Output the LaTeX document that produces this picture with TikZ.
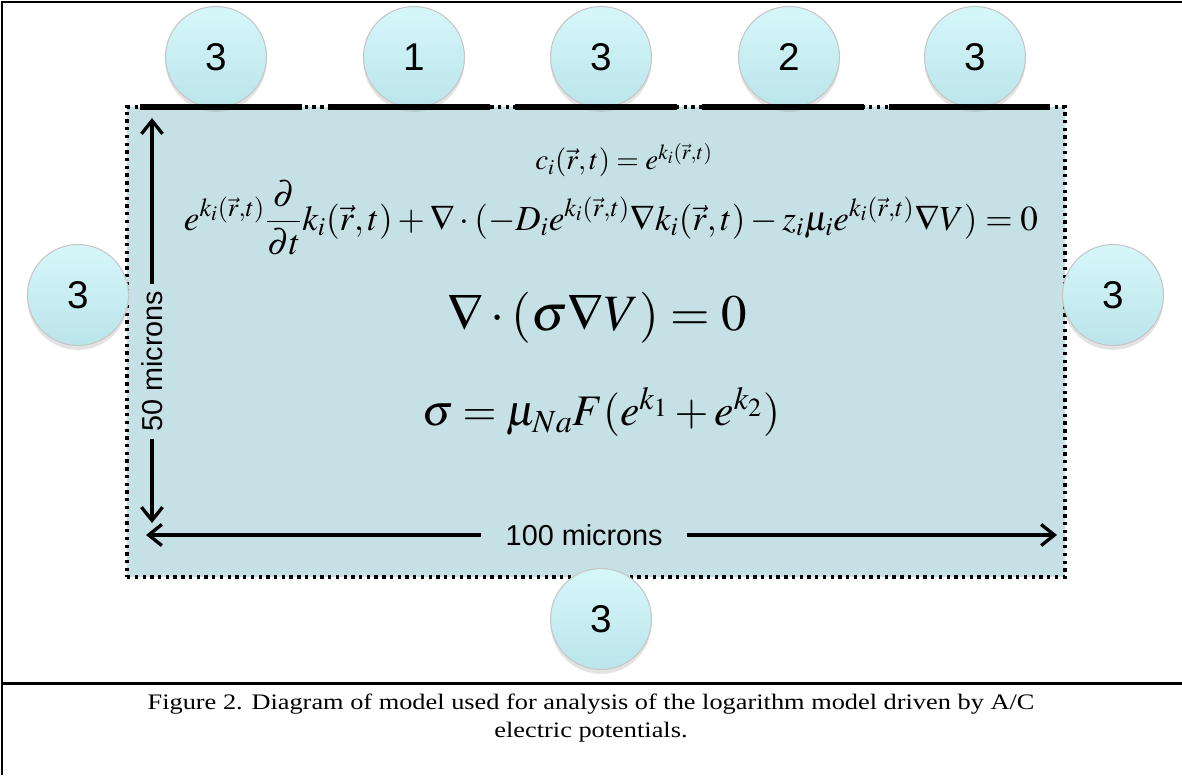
\documentclass[tikz,border=0pt]{standalone}
\usepackage{mathptmx}
\usepackage{fontspec}
\setmainfont{Liberation Serif}
\setsansfont{Liberation Sans}
\usetikzlibrary{shadows,arrows.meta}

\definecolor{cellfill}{RGB}{198,225,230}
\definecolor{padtop}{RGB}{214,247,250}
\definecolor{padbottom}{RGB}{186,229,234}

\tikzset{
  pad/.style={circle, draw=gray!45, line width=0.6pt, top color=padtop, bottom color=padbottom,
    minimum size=2.02cm, inner sep=0pt, font=\sffamily\fontsize{22}{22}\selectfont,
    drop shadow={opacity=0.22, shadow xshift=0pt, shadow yshift=-2.5pt}},
  electrode/.style={line width=3.8pt},
  frameline/.style={line width=1.7pt},
  dim/.style={line width=1.9pt, {Straight Barb[length=7.5pt,width=12pt]}-{Straight Barb[length=7.5pt,width=12pt]}},
  dimlabel/.style={fill=cellfill, inner sep=6pt, font=\sffamily\fontsize{16.4}{16.4}\selectfont}
}

\begin{document}
\begin{tikzpicture}[x=0.02cm, y=-0.02cm]
  \useasboundingbox (0,0) rectangle (1182,775);

  % frame and caption box
  \draw[frameline] (1182,2) -- (2,2) -- (2,775);
  \draw[frameline] (2,683) -- (1182,683);

  % cell
  \node[draw, fill=cellfill, line width=1.9pt, dash pattern=on 1.9pt off 2.5pt,
        minimum width=18.76cm, minimum height=9.4cm, inner sep=0pt] (cell) at (596,342) {};

  % contacts
  \node[pad] (top1) at (216,57) {3};
  \node[pad] (top2) at (414,57) {1};
  \node[pad] (top3) at (601,57) {3};
  \node[pad] (top4) at (789,57) {2};
  \node[pad] (top5) at (975,57) {3};
  \node[pad] (left) at (78,295) {3};
  \node[pad] (right) at (1113,295) {3};
  \node[pad] (bottom) at (601,619) {3};

  % electrodes along the top edge
  \draw[electrode] (140,107) -- (302,107);
  \draw[electrode] (328,107) -- (490,107);
  \draw[electrode] (515,107) -- (677,107);
  \draw[electrode] (702,107) -- (864,107);
  \draw[electrode] (889,107) -- (1050,107);

  % dimensions
  \coordinate (vtop) at (152,118);
  \coordinate (vbot) at (152,523);
  \coordinate (hleft) at (146,535);
  \coordinate (hright) at (1057,535);
  \draw[dim] (vtop) -- (vbot) node[dimlabel, pos=0.6, rotate=90, inner sep=4pt] (height) {50 microns};
  \draw[dim] (hleft) -- (hright) node[dimlabel, pos=0.481, inner xsep=14pt] (width) {100 microns};

  % equations
  \node[font=\fontsize{16.5}{16.5}\selectfont] (conc) at (624,160)
  {$c_i(\vec{r},t)=e^{k_i(\vec{r},t)}$};
  \node[font=\fontsize{20}{20}\selectfont] (transport) at (611,218)
  {$\displaystyle e^{k_i(\vec{r},t)}\frac{\partial}{\partial t}k_i(\vec{r},t)+\nabla\cdot(-D_i e^{k_i(\vec{r},t)}\nabla k_i(\vec{r},t)-z_i\mu_i e^{k_i(\vec{r},t)}\nabla V)=0$};
  \node[font=\fontsize{29}{29}\selectfont] (poisson) at (597,318)
  {$\nabla\cdot(\sigma\nabla V)=0$};
  \node[font=\fontsize{24.8}{24.8}\selectfont] (sigma) at (601,412)
  {$\sigma=\mu_{Na}F(e^{k_1}+e^{k_2})$};

  % caption
  \node[align=center, xscale=1.19, font=\fontsize{12.6}{16.4}\selectfont] (caption) at (591,718)
  {Figure 2. Diagram of model used for analysis of the logarithm model driven by A/C\\electric potentials.};
\end{tikzpicture}
\end{document}
